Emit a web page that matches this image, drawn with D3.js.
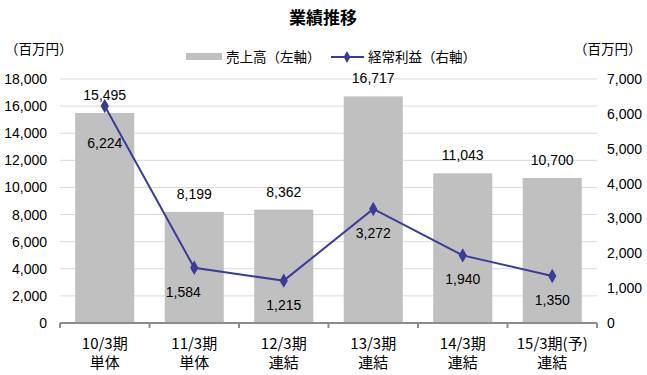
<!DOCTYPE html>
<html><head><meta charset="utf-8">
<script src="https://cdn.jsdelivr.net/npm/d3@7"></script>
<style>
html,body{margin:0;padding:0;background:#fff;}
text{font-family:"Noto Sans CJK JP","Liberation Sans",sans-serif;fill:#000;}
.num{font-family:"Liberation Sans","Noto Sans CJK JP",sans-serif;}
</style></head>
<body>
<svg id="chart" width="647" height="375"></svg>
<script>
const categories = ["10/3期", "11/3期", "12/3期", "13/3期", "14/3期", "15/3期(予)"];
const categorySub = ["単体", "単体", "連結", "連結", "連結", "連結"];
const sales = [15495, 8199, 8362, 16717, 11043, 10700];
const profit = [6224, 1584, 1215, 3272, 1940, 1350];
const leftTicks = [0, 2000, 4000, 6000, 8000, 10000, 12000, 14000, 16000, 18000];
const rightTicks = [0, 1000, 2000, 3000, 4000, 5000, 6000, 7000];
const title = "業績推移";
const unitLabel = "（百万円）";
const legendSales = "売上高（左軸）";
const legendProfit = "経常利益（右軸）";

const svg = d3.select("#chart");
const x0 = 60, x1 = 597, yTop = 79, yBot = 323;

const x = d3.scaleBand().domain(categories).range([x0, x1]).paddingInner(0.34).paddingOuter(0.17);
const xc = d3.scaleBand().domain(categories).range([x0, x1]);
const yL = d3.scaleLinear().domain([0, 18000]).range([yBot, yTop]);
const yR = d3.scaleLinear().domain([0, 7000]).range([yBot, yTop]);
const fmt = d3.format(",");

// title
svg.append("text").attr("x", 323).attr("y", 24).attr("text-anchor", "middle")
  .style("font-size", "17px").style("font-weight", "bold").text(title);
svg.append("text").attr("x", 5).attr("y", 54).style("font-size", "13.5px").text(unitLabel);
svg.append("text").attr("x", 574).attr("y", 54).style("font-size", "13.5px").text(unitLabel);

// gridlines
svg.append("g").selectAll("line").data(leftTicks.filter(d => d > 0)).join("line")
  .attr("x1", x0).attr("x2", x1).attr("y1", d => yL(d)).attr("y2", d => yL(d))
  .attr("stroke", "#d9d9d9").attr("stroke-width", 1);

// left axis
const axL = d3.axisLeft(yL).tickValues(leftTicks).tickFormat(fmt).tickSize(0).tickPadding(13);
const gL = svg.append("g").attr("transform", `translate(${x0},0)`).call(axL);
gL.select(".domain").remove();
gL.selectAll("text").attr("class", "num").style("font-size", "14px");

// right axis
const axR = d3.axisRight(yR).tickValues(rightTicks).tickFormat(fmt).tickSize(0).tickPadding(10);
const gR = svg.append("g").attr("transform", `translate(${x1},0)`).call(axR);
gR.select(".domain").remove();
gR.selectAll("text").attr("class", "num").style("font-size", "14px");

// bars
svg.append("g").selectAll("rect").data(sales).join("rect")
  .attr("x", (d, i) => x(categories[i])).attr("width", x.bandwidth())
  .attr("y", d => yL(d)).attr("height", d => yBot - yL(d))
  .attr("fill", "#c0c0c0");

// bottom axis
svg.append("line").attr("x1", x0).attr("x2", x1).attr("y1", yBot).attr("y2", yBot)
  .attr("stroke", "#8c8c8c").attr("stroke-width", 2);
const bounds = categories.map(c => xc(c)).concat([x1]);
svg.append("g").selectAll("line").data(bounds).join("line")
  .attr("x1", d => d).attr("x2", d => d).attr("y1", yBot).attr("y2", yBot + 5)
  .attr("stroke", "#8c8c8c").attr("stroke-width", 2);

// category labels
const cl = svg.append("g");
categories.forEach((c, i) => {
  const cx = xc(c) + xc.bandwidth() / 2;
  cl.append("text").attr("x", cx).attr("y", 349).attr("text-anchor", "middle").style("font-size", "15px").text(c);
  cl.append("text").attr("x", cx).attr("y", 368).attr("text-anchor", "middle").style("font-size", "15px").text(categorySub[i]);
});

// bar labels
svg.append("g").selectAll("text").data(sales).join("text")
  .attr("class", "num").attr("x", (d, i) => xc(categories[i]) + xc.bandwidth() / 2)
  .attr("y", d => yL(d) - 13).attr("text-anchor", "middle").style("font-size", "14px")
  .text(d => fmt(d));

// line
const cx = i => xc(categories[i]) + xc.bandwidth() / 2;
const line = d3.line().x((d, i) => cx(i)).y(d => yR(d));
svg.append("path").datum(profit).attr("d", line).attr("fill", "none")
  .attr("stroke", "#3b3b98").attr("stroke-width", 2);
svg.append("g").selectAll("path").data(profit).join("path")
  .attr("d", d3.symbol(d3.symbolDiamond, 60))
  .attr("transform", (d, i) => `translate(${cx(i)},${yR(d)})`)
  .attr("fill", "#3b3b98");

// line labels (below points; first moved lower inside bar, second nudged left)
const labelDx = [0, -11, 0, 0, 0, 0];
const labelDy = [42, 29, 29, 29, 29, 29];
svg.append("g").selectAll("text").data(profit).join("text")
  .attr("class", "num").attr("x", (d, i) => cx(i) + labelDx[i])
  .attr("y", (d, i) => yR(d) + labelDy[i]).attr("text-anchor", "middle").style("font-size", "14px")
  .text(d => fmt(d));

// legend
const lg = svg.append("g");
lg.append("rect").attr("x", 186).attr("y", 53).attr("width", 36).attr("height", 7).attr("fill", "#c0c0c0");
lg.append("text").attr("x", 226).attr("y", 62).style("font-size", "13.5px").text(legendSales);
lg.append("line").attr("x1", 331).attr("x2", 364).attr("y1", 57).attr("y2", 57).attr("stroke", "#3b3b98").attr("stroke-width", 2);
lg.append("path").attr("d", d3.symbol(d3.symbolDiamond, 40)).attr("transform", "translate(347,57)").attr("fill", "#3b3b98");
lg.append("text").attr("x", 368).attr("y", 62).style("font-size", "13.5px").text(legendProfit);
</script>
</body></html>
